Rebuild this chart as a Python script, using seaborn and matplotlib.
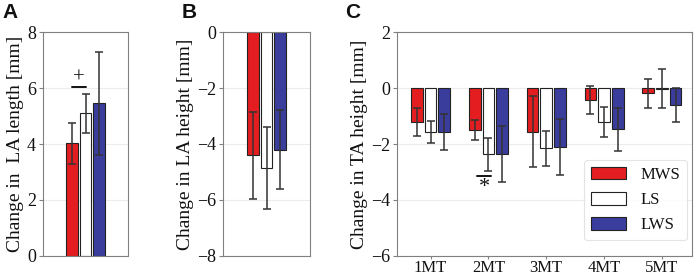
import numpy as np
import pandas as pd
import seaborn as sns
import matplotlib.pyplot as plt

sns.set_theme(style="white")
plt.rcParams['font.family'] = ['Liberation Serif', 'DejaVu Serif']
plt.rcParams['text.color'] = '#111111'
plt.rcParams['axes.labelcolor'] = '#111111'
plt.rcParams['xtick.labelcolor'] = '#111111'
plt.rcParams['ytick.labelcolor'] = '#111111'

groups = ['MWS', 'LS', 'LWS']
colors = ['#e41e20', '#ffffff', '#3a3d9c']

# panel A: change in LA length
la_len_mean = [4.02, 5.10, 5.45]
la_len_sd = [0.72, 0.70, 1.85]

# panel B: change in LA height
la_hgt_mean = [-4.40, -4.85, -4.20]
la_hgt_sd = [1.55, 1.47, 1.40]

# panel C: change in TA height per metatarsal
ta_labels = ['1MT', '2MT', '3MT', '4MT', '5MT']
ta_mws_mean = [-1.22, -1.49, -1.56, -0.43, -0.19]
ta_mws_sd = [0.50, 0.36, 1.27, 0.50, 0.51]
ta_ls_mean = [-1.58, -2.37, -2.15, -1.21, -0.02]
ta_ls_sd = [0.39, 0.59, 0.62, 0.53, 0.70]
ta_lws_mean = [-1.58, -2.37, -2.12, -1.48, -0.60]
ta_lws_sd = [0.65, 1.00, 1.00, 0.78, 0.60]

df_a = pd.DataFrame({'cat': ['LA'] * 3, 'group': groups, 'val': la_len_mean, 'sd': la_len_sd})
df_b = pd.DataFrame({'cat': ['LA'] * 3, 'group': groups, 'val': la_hgt_mean, 'sd': la_hgt_sd})
df_c = pd.DataFrame({
    'cat': ta_labels * 3,
    'group': np.repeat(groups, len(ta_labels)),
    'val': ta_mws_mean + ta_ls_mean + ta_lws_mean,
    'sd': ta_mws_sd + ta_ls_sd + ta_lws_sd,
})

fig = plt.figure(figsize=(6.99, 2.77), dpi=100)
W, H = 699, 277


def px_axes(l, r, t, b):
    return fig.add_axes([l / W, 1 - b / H, (r - l) / W, (b - t) / H])


def draw(ax, df, ylim, yticks, ylabel, legend=False):
    sns.barplot(data=df, x='cat', y='val', hue='group', hue_order=groups,
                palette=colors, saturation=1, width=0.71, gap=0.15, errorbar=None,
                edgecolor='#222222', linewidth=0.8, legend=legend, ax=ax)
    for cont, g in zip(ax.containers, groups):
        sub = df[df['group'] == g]
        xs = [p.get_x() + p.get_width() / 2 for p in cont]
        ax.errorbar(xs, sub['val'], yerr=sub['sd'], fmt='none', ecolor='#333333',
                    elinewidth=1.1, capsize=3.2, capthick=1.1, zorder=5)
    ax.set_ylim(*ylim)
    ax.set_yticks(yticks)
    ax.set_yticklabels([f'{t:g}'.replace('-', '\u2212') for t in yticks])
    ax.yaxis.grid(True, color='#ececec', linewidth=0.8)
    ax.set_axisbelow(True)
    ax.set_xlabel('')
    ax.set_ylabel(ylabel, fontsize=14, labelpad=2)
    ax.tick_params(axis='y', labelsize=13, length=3, width=0.8, color='#808080', pad=2, left=True)
    ax.tick_params(axis='x', labelsize=12, length=2.5, width=0.8, color='#808080', pad=0.5, bottom=True)
    for s in ax.spines.values():
        s.set_color('#808080')
        s.set_linewidth(0.8)


ax_a = px_axes(43, 128, 32, 256)
draw(ax_a, df_a, (0, 8), [0, 2, 4, 6, 8], 'Change in  LA length [mm]')
ax_a.set_xlim(-0.74, 0.74)
ax_a.set_xticks([])
ax_a.plot([-0.237, 0.0], [6.02, 6.02], color='#111111', lw=1.4)
ax_a.text(-0.118, 6.02, '+', ha='center', va='bottom', fontsize=15)

ax_b = px_axes(223, 310, 32, 256)
draw(ax_b, df_b, (-8, 0), [-8, -6, -4, -2, 0], 'Change in LA height [mm]')
ax_b.set_xlim(-0.75, 0.75)
ax_b.set_xticks([])

ax_c = px_axes(397, 692, 32, 256)
draw(ax_c, df_c, (-6, 2), [-6, -4, -2, 0, 2], 'Change in TA height [mm]', legend=True)
ax_c.set_xlim(-0.58, 4.52)
ax_c.plot([0.8, 1.05], [-3.13, -3.13], color='#111111', lw=1.4)
ax_c.text(0.93, -3.22, '*', ha='center', va='top', fontsize=16)
leg = ax_c.legend(loc='lower right', fontsize=12, frameon=True, handlelength=2.15,
                  handleheight=0.8, handletextpad=0.85, borderpad=0.4, labelspacing=0.55,
                  borderaxespad=0, bbox_to_anchor=(0.983, 0.071))
leg.get_frame().set_edgecolor('#dddddd')
leg.get_frame().set_linewidth(0.8)

for lbl, x in [('A', 2), ('B', 182), ('C', 345)]:
    fig.text(x / W, 1 - 3 / H, lbl, ha='left', va='top', fontsize=15,
             fontweight='bold', family=['Liberation Sans', 'DejaVu Sans'])

fig.savefig('out.png', dpi=100)
